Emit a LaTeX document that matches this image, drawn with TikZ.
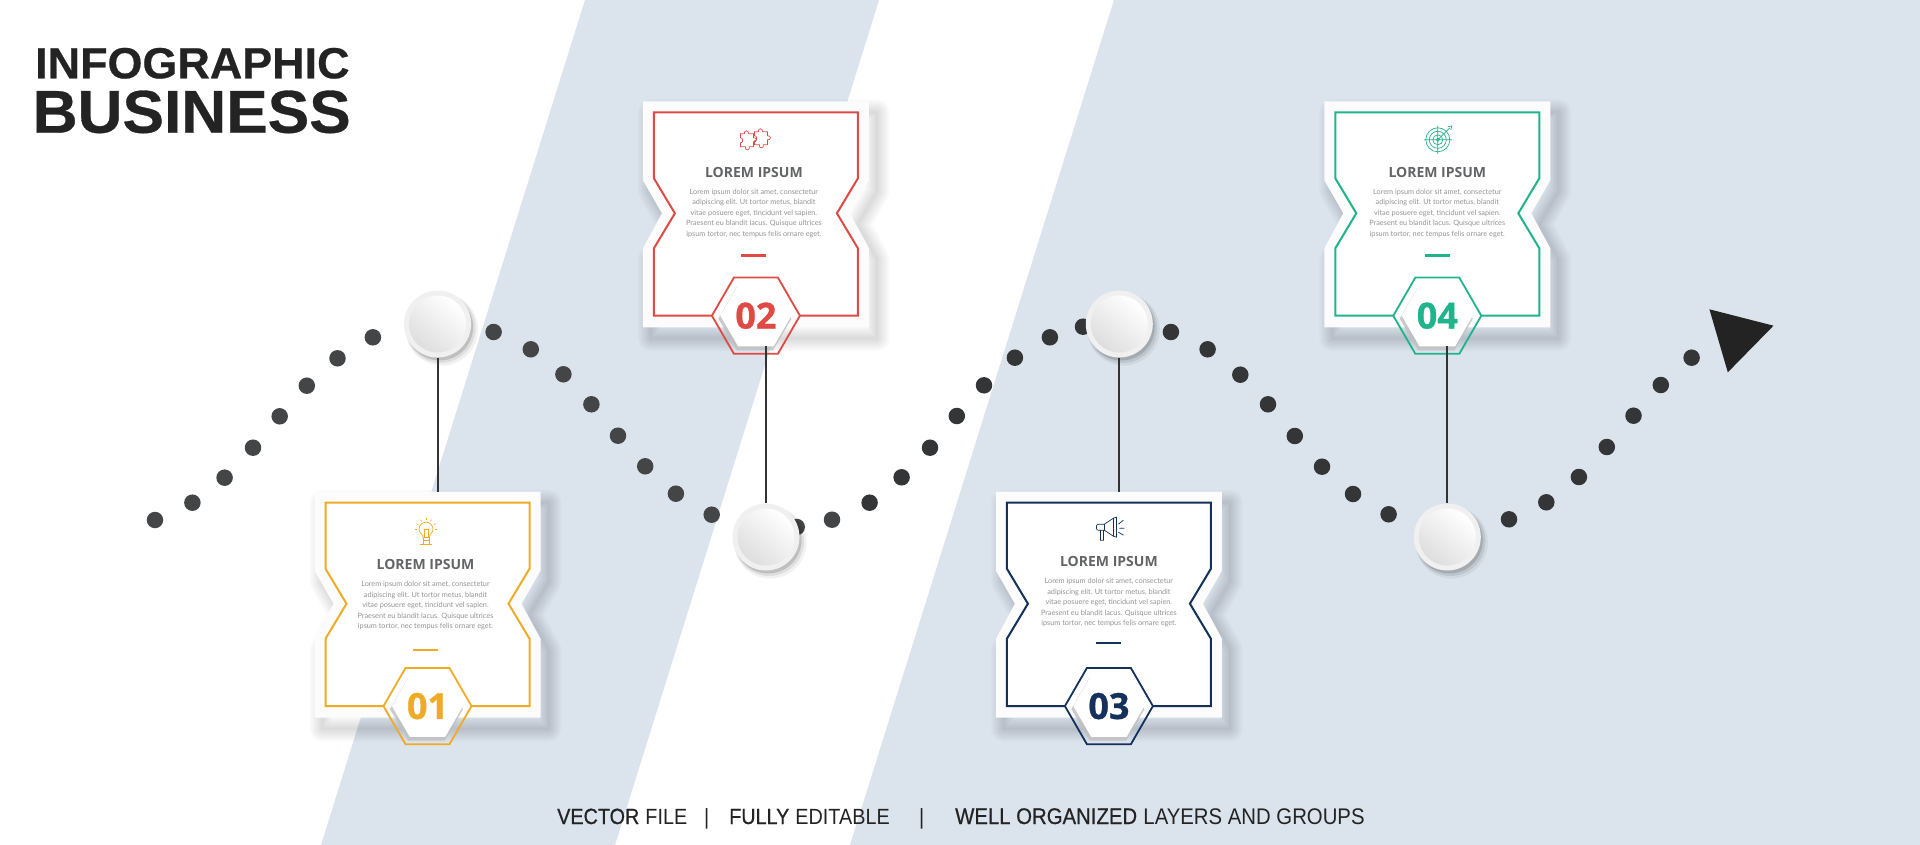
\documentclass[tikz,border=0pt]{standalone}
\usepackage{fontspec}
\usepackage{xcolor}
\usetikzlibrary{shapes.geometric,shadows,calc}
\setmainfont{Liberation Sans}
\newfontfamily\headfont[FakeStretch=1.03,FakeBold=.5]{Liberation Sans}
\newfontfamily\footfont[FakeStretch=.9]{Liberation Sans}
\newfontfamily\footbold[FakeStretch=.9,FakeBold=.6]{Liberation Sans}
\newfontfamily\cardhead{Open Sans}
\newfontfamily\cardnum[BoldFeatures={FakeBold=.8}]{Open Sans}
\newfontfamily\cardbody{Lato}
\definecolor{bandblue}{HTML}{DBE3EC}
\definecolor{cardgold}{HTML}{EFAB25}
\definecolor{cardred}{HTML}{E04A44}
\definecolor{cardnavy}{HTML}{14315C}
\definecolor{cardgreen}{HTML}{1FB48C}
\definecolor{cardedge}{HTML}{FBFCFB}
\definecolor{dotgrey}{HTML}{434547}
\definecolor{dotdark}{HTML}{333537}
\definecolor{stemgrey}{HTML}{333333}
\definecolor{titlegrey}{HTML}{636466}
\definecolor{bodygrey}{HTML}{949496}
\definecolor{inkdark}{HTML}{232323}
\tikzset{
    track-dot/.style = {circle, inner sep=0pt, minimum size=16.5pt},
    stem-line/.style = {draw=stemgrey, line width=2pt},
    soft-shade/.style = {draw=black, draw opacity=.016, line join=round},
    ring-base/.style = {circle, inner sep=0pt, minimum size=67pt, fill=white!94!black,
        general shadow={fill=black, opacity=.05, shadow xshift=4pt, shadow yshift=-5pt, shadow scale=1.08},
        general shadow={fill=black, opacity=.08, shadow xshift=3pt, shadow yshift=-4pt, shadow scale=1.04},
        general shadow={fill=black, opacity=.14, shadow xshift=2pt, shadow yshift=-3pt, shadow scale=1.0}},
    ring-core/.style = {circle, inner sep=0pt, minimum size=57pt, top color=white, bottom color=white!87!black, shading angle=-40},
    card-area/.style = {rectangle, inner sep=0pt, minimum width=226pt, minimum height=226pt},
    hex-rim/.style = {regular polygon, regular polygon sides=6, inner sep=0pt, outer sep=0pt, minimum size=88pt},
    hex-core/.style = {regular polygon, regular polygon sides=6, inner sep=0pt, outer sep=0pt, minimum size=71pt, fill=white},
    hex-shade/.style = {regular polygon, regular polygon sides=6, inner sep=0pt, outer sep=0pt, minimum size=73pt, fill=black!25, fill opacity=.8},
    card-title/.style = {inner sep=0pt, font=\cardhead\bfseries\fontsize{14}{15}\selectfont, text=titlegrey},
    card-text/.style = {inner sep=0pt, align=center, font=\cardbody\fontsize{7.3}{10.5}\selectfont, text=bodygrey},
    foot-text/.style = {inner sep=0pt, anchor=base west, text=inkdark},
    head-text/.style = {inner sep=0pt, anchor=base west, text=inkdark},
}
\newcommand{\cardshape}{(-113,-11) -- (113,-11) -- (113,68) -- (94,101) -- (113,136) -- (113,215) -- (-113,215) -- (-113,136) -- (-94,101) -- (-113,68) -- cycle}
\newcommand{\iconbulb}{
    \draw (-3,5) .. controls (-3,2) and (-7,1) .. (-7,-3) arc (180:360:7) .. controls (7,1) and (3,2) .. (3,5);
    \draw (-3,5) -- (3,5) (-3,8) -- (3,8) (-3,5) -- (-3,12) (3,5) -- (3,12) (-6,12) -- (6,12) (-2,5) -- (-2,-3) -- (2,-3) -- (2,5);
    \foreach \a in {180,210,...,360} {\draw ($(0,-3)+(\a:9)$) -- ($(0,-3)+(\a:11)$);}
}
\newcommand{\iconhorn}{
    \draw (-5,-5) -- (4,-11) -- (4,7) -- (-5,1) -- cycle (4,-11) -- (7,-12) -- (7,8) -- (4,7);
    \draw[rounded corners=2pt] (-5,-5) -- (-13,-5) -- (-13,1) -- (-5,1);
    \draw (-9,1) -- (-9,11) -- (-6,11) -- (-6,1) (9,-5) -- (14,-9) (10,-1) -- (15,-1) (9,3) -- (14,6);
}
\newcommand{\iconpuzzle}{
    \foreach \sx/\sy in {0/0,14/-2} {
        \draw[shift={(\sx,\sy)}] (-14,-6) -- (-10,-6) .. controls (-11,-10) and (-5,-10) .. (-6,-6) -- (-1,-6) -- (-1,-2) .. controls (3,-3) and (3,3) .. (-1,2) -- (-1,7) -- (-5,7) .. controls (-4,11) and (-10,11) .. (-9,7) -- (-14,7) -- (-14,3) .. controls (-11,4) and (-11,-3) .. (-14,-2) -- cycle;
    }
}
\newcommand{\icontarget}{
    \foreach \r in {12,8.5,5,1.5} {\draw (0,0) circle (\r);}
    \draw (-14,0) -- (14,0) (0,-14) -- (0,14) (0,0) -- (12,-12) (10,-13) -- (14,-14) -- (13,-10);
}
\begin{document}
\begin{tikzpicture}[x=1pt,y=-1pt]
\useasboundingbox (0,0) rectangle (1920,845);
\fill[white] (0,0) rectangle (1920,845);
\fill[bandblue] (585,0) -- (879,0) -- (615,845) -- (321,845) -- cycle;
\fill[bandblue] (1114,0) -- (1920,0) -- (1920,845) -- (850,845) -- cycle;
\foreach \x/\y [count=\i] in {155/520,192.4/502.7,224.6/477.7,253/447.7,279.7/416.3,306.8/385.7,337.5/358.3,372.9/337.3,493.6/332,530.8/349.3,563.4/374.3,591.4/404.3,618/435.7,645.2/466.3,675.9/493.7,711.7/514.7,796.7/527,832/519.7}
    \node[track-dot, fill=dotgrey] (dot\i) at (\x,\y) {};
\foreach \x/\y [count=\i] in {869.6/502.7,901.6/477.3,930/447.7,956.8/416,984/385.3,1014.9/357.7,1049.9/337.3,1083/326.7,1170.9/332,1207.6/349.3,1240.3/374.7,1268/404.3,1294.8/436,1322/466.7,1353/494,1388.6/514.3,1509/519.3,1546.3/502.3,1578.9/477,1606.8/447,1633.5/415.7,1660.8/385,1691.6/357.7}
    \node[track-dot, fill=dotdark] (mark\i) at (\x,\y) {};
\fill[inkdark] (1709.4,309.3) -- (1773.5,325.7) -- (1727.8,372.3) -- cycle;
\foreach \n/\x/\y in {1/437.6/324,2/766/537,3/1119.3/324,4/1447.3/537} {
    \node[ring-base] (ring\n) at (\x,\y) {};
    \node[ring-core] (core\n) at (\x,\y) {};
}
\foreach \n/\x/\y/\ink/\ox/\oy/\dy/\icon in {1/427.5/502.7/cardgold/-2/2/147.3/\iconbulb,2/755.9/112.3/cardred/-2/0/143.4/\iconpuzzle,3/1108.9/502.7/cardnavy/0/-1/140.3/\iconhorn,4/1437.3/112.3/cardgreen/0/0/143.4/\icontarget} {
\begin{scope}[shift={(\x,\y)}]
    \foreach \w in {2,5,...,26}
        \draw[soft-shade, line width=\w pt, shift={(8,11)}] \cardshape;
    \fill[cardedge] \cardshape;
    \fill[white] (-102,0) -- (102,0) -- (102,66) -- (81,101) -- (102,136) -- (102,203.4) -- (-102,203.4) -- (-102,136) -- (-81,101) -- (-102,66) -- cycle;
    \node[card-area] (card\n) at (0,102) {};
    \node[hex-rim] (rim\n) at (0,203.4) {};
    \draw[draw=\ink, line width=2pt, line join=miter] (rim\n.west) -- (-102,203.4) -- (-102,136) -- (-81,101) -- (-102,66) -- (-102,0) -- (102,0) -- (102,66) -- (81,101) -- (102,136) -- (102,203.4) -- (rim\n.east);
    \node[hex-rim, draw=\ink, line width=1.8pt] at (0,203.4) {};
    \node[hex-shade] at (-1,206.4) {};
    \node[hex-core, text=\ink, font=\cardnum\bfseries\fontsize{36}{36}\selectfont] (hex\n) at (0,203.4) {0\n};
    \node[card-title] (title\n) at (\ox,60+\oy) {LOREM IPSUM};
    \node[card-text] (text\n) at (\ox,101+\oy) {Lorem ipsum dolor sit amet, consectetur\\adipiscing elit. Ut tortor metus, blandit\\vitae posuere eget, tincidunt vel sapien.\\Praesent eu blandit lacus. Quisque ultrices\\ipsum tortor, nec tempus felis ornare eget.};
    \fill[\ink] (\ox-12.5,\dy-1.4) rectangle (\ox+12.5,\dy+1.4);
    \begin{scope}[shift={(\ox+.5,27.5+\oy)}, draw=\ink, line width=.7pt]
        \icon
    \end{scope}
\end{scope}
}
\draw[stem-line] (ring1) -- (ring1 |- card1.north);
\draw[stem-line] (ring3) -- (ring3 |- card3.north);
\draw[stem-line] (ring2) -- (ring2 |- hex2.south);
\draw[stem-line] (ring4) -- (ring4 |- hex4.south);
\node[head-text, font=\headfont\bfseries\fontsize{43.6}{44}\selectfont] (headA) at (35,78.3) {INFOGRAPHIC};
\node[head-text, font=\headfont\bfseries\fontsize{60.4}{61}\selectfont] (headB) at (32.5,132.7) {BUSINESS};
\node[foot-text, font=\fontsize{22}{22}\selectfont] (footA) at (557,824) {{\footbold VECTOR} {\footfont FILE}};
\node[foot-text, font=\fontsize{22}{22}\selectfont] (barA) at (704,824) {{\footfont |}};
\node[foot-text, font=\fontsize{22}{22}\selectfont] (footB) at (729,824) {{\footbold FULLY} {\footfont EDITABLE}};
\node[foot-text, font=\fontsize{22}{22}\selectfont] (barB) at (919,824) {{\footfont |}};
\node[foot-text, font=\fontsize{22.6}{23}\selectfont] (footC) at (955,824) {{\footbold WELL ORGANIZED} {\footfont LAYERS AND GROUPS}};
\end{tikzpicture}
\end{document}
